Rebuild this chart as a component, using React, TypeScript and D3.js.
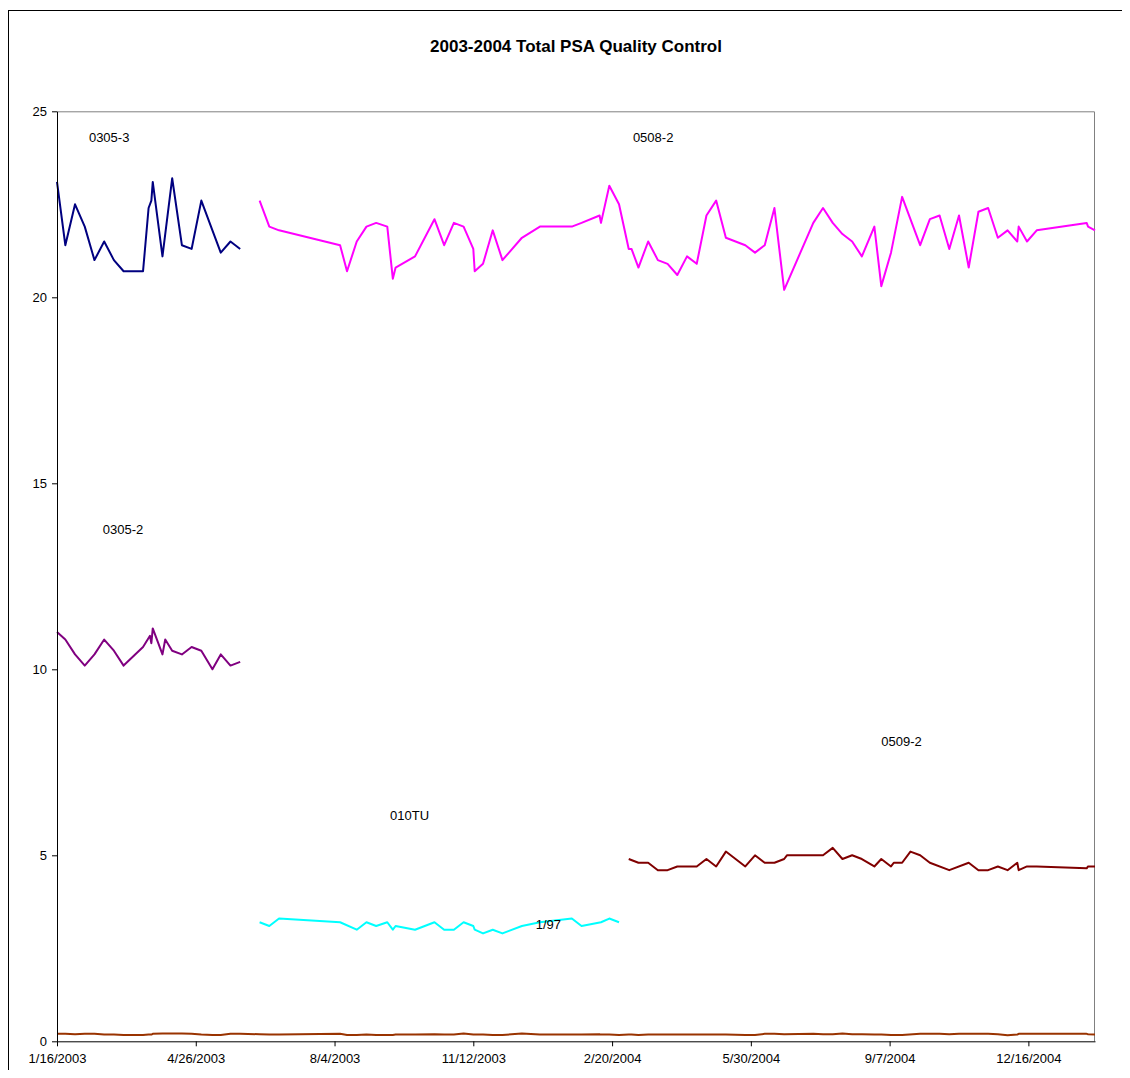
import React, { useEffect, useRef } from 'react';
import * as d3 from 'd3';

const chartTitle = '2003-2004 Total PSA Quality Control';

const xTickDates = [
  '2003-01-16', '2003-04-26', '2003-08-04', '2003-11-12',
  '2004-02-20', '2004-05-30', '2004-09-07', '2004-12-16',
];
const xDomain = ['2003-01-16', '2005-02-02'];
const yTicks = [0, 5, 10, 15, 20, 25];

// lot 0305 (Jan - May 2003)
const dates0305_3 = [
  '2003-01-16', '2003-01-22', '2003-01-29', '2003-02-05', '2003-02-12', '2003-02-19', '2003-02-26',
  '2003-03-05', '2003-03-19', '2003-03-23', '2003-03-25', '2003-03-26', '2003-04-02', '2003-04-09',
  '2003-04-16', '2003-04-23', '2003-04-30', '2003-05-08', '2003-05-14', '2003-05-21', '2003-05-28',
];
const values0305_3 = [
  23.1, 21.4, 22.5, 21.9, 21.0, 21.5, 21.0,
  20.7, 20.7, 22.4, 22.6, 23.1, 21.1, 23.2,
  21.4, 21.3, 22.6, 21.8, 21.2, 21.5, 21.3,
];

const dates0305_2 = [
  '2003-01-16', '2003-01-22', '2003-01-29', '2003-02-05', '2003-02-12', '2003-02-19', '2003-02-26',
  '2003-03-05', '2003-03-19', '2003-03-24', '2003-03-25', '2003-03-26', '2003-04-02', '2003-04-04',
  '2003-04-09', '2003-04-16', '2003-04-23', '2003-04-30', '2003-05-08', '2003-05-14', '2003-05-21',
  '2003-05-28',
];
const values0305_2 = [
  11.0, 10.8, 10.4, 10.1, 10.4, 10.8, 10.5,
  10.1, 10.6, 10.9, 10.7, 11.1, 10.4, 10.8,
  10.5, 10.4, 10.6, 10.5, 10.0, 10.4, 10.1,
  10.2,
];

// lot 0508 (Jun 2003 - Feb 2005)
const dates0508_2 = [
  '2003-06-11', '2003-06-18', '2003-06-25', '2003-08-08', '2003-08-13', '2003-08-20', '2003-08-27',
  '2003-09-03', '2003-09-11', '2003-09-15', '2003-09-17', '2003-10-01', '2003-10-15', '2003-10-22',
  '2003-10-29', '2003-11-05', '2003-11-12', '2003-11-13', '2003-11-19', '2003-11-26', '2003-12-03',
  '2003-12-17', '2003-12-30',
  '2004-01-22', '2004-01-29', '2004-02-11', '2004-02-12', '2004-02-18', '2004-02-25', '2004-03-03',
  '2004-03-05', '2004-03-10', '2004-03-17', '2004-03-24', '2004-03-31', '2004-04-07', '2004-04-14',
  '2004-04-21', '2004-04-28', '2004-05-05', '2004-05-12', '2004-05-26', '2004-06-02', '2004-06-09',
  '2004-06-16', '2004-06-23', '2004-07-14', '2004-07-21', '2004-07-28', '2004-08-04', '2004-08-11',
  '2004-08-18', '2004-08-27', '2004-09-01', '2004-09-08', '2004-09-16', '2004-09-29', '2004-10-06',
  '2004-10-13', '2004-10-20', '2004-10-27', '2004-11-03', '2004-11-10', '2004-11-17', '2004-11-24',
  '2004-12-01', '2004-12-08', '2004-12-09', '2004-12-15', '2004-12-22',
  '2005-01-27', '2005-01-28', '2005-02-02',
];
const values0508_2 = [
  22.6, 21.9, 21.8, 21.4, 20.7, 21.5, 21.9,
  22.0, 21.9, 20.5, 20.8, 21.1, 22.1, 21.4,
  22.0, 21.9, 21.3, 20.7, 20.9, 21.8, 21.0,
  21.6, 21.9,
  21.9, 22.0, 22.2, 22.0, 23.0, 22.5, 21.3,
  21.3, 20.8, 21.5, 21.0, 20.9, 20.6, 21.1,
  20.9, 22.2, 22.6, 21.6, 21.4, 21.2, 21.4,
  22.4, 20.2, 22.0, 22.4, 22.0, 21.7, 21.5,
  21.1, 21.9, 20.3, 21.2, 22.7, 21.4, 22.1,
  22.2, 21.3, 22.2, 20.8, 22.3, 22.4, 21.6,
  21.8, 21.5, 21.9, 21.5, 21.8,
  22.0, 21.9, 21.8,
];

// tumor marker control 010TU
const dates010TU = [
  '2003-06-11', '2003-06-18', '2003-06-25', '2003-08-08', '2003-08-20', '2003-08-27', '2003-09-03',
  '2003-09-11', '2003-09-15', '2003-09-17', '2003-10-01', '2003-10-15', '2003-10-22', '2003-10-29',
  '2003-11-05', '2003-11-12', '2003-11-13', '2003-11-19', '2003-11-26', '2003-12-03', '2003-12-17',
  '2003-12-30', '2004-01-22', '2004-01-29', '2004-02-12', '2004-02-18', '2004-02-25',
];
const values010TU = [
  3.2, 3.1, 3.3, 3.2, 3.0, 3.2, 3.1,
  3.2, 3.0, 3.1, 3.0, 3.2, 3.0, 3.0,
  3.2, 3.1, 3.0, 2.9, 3.0, 2.9, 3.1,
  3.2, 3.3, 3.1, 3.2, 3.3, 3.2,
];

// lot 0509 (Mar 2004 - Feb 2005)
const dates0509_2 = [
  '2004-03-03', '2004-03-10', '2004-03-17', '2004-03-24', '2004-03-31', '2004-04-07', '2004-04-21',
  '2004-04-28', '2004-05-05', '2004-05-12', '2004-05-26', '2004-06-02', '2004-06-09', '2004-06-16',
  '2004-06-23', '2004-06-25', '2004-07-21', '2004-07-28', '2004-08-04', '2004-08-11', '2004-08-18',
  '2004-08-27', '2004-09-01', '2004-09-08', '2004-09-10', '2004-09-16', '2004-09-22', '2004-09-29',
  '2004-10-06', '2004-10-20', '2004-11-03', '2004-11-10', '2004-11-17', '2004-11-24', '2004-12-01',
  '2004-12-08', '2004-12-09', '2004-12-15', '2004-12-22', '2005-01-27', '2005-01-28', '2005-02-02',
];
const values0509_2 = [
  4.9, 4.8, 4.8, 4.6, 4.6, 4.7, 4.7,
  4.9, 4.7, 5.1, 4.7, 5.0, 4.8, 4.8,
  4.9, 5.0, 5.0, 5.2, 4.9, 5.0, 4.9,
  4.7, 4.9, 4.7, 4.8, 4.8, 5.1, 5.0,
  4.8, 4.6, 4.8, 4.6, 4.6, 4.7, 4.6,
  4.8, 4.6, 4.7, 4.7, 4.65, 4.7, 4.7,
];

// blank 1/97, run every day (same run dates as the 0305 and 0508 lots)
const dates1_97 = [...dates0305_3, ...dates0508_2];
const values1_97 = [
  0.2, 0.2, 0.19, 0.2, 0.2, 0.18, 0.18, 0.17, 0.17, 0.18, 0.18, 0.2, 0.21, 0.21,
  0.21, 0.2, 0.18, 0.17, 0.17, 0.2, 0.2,
  0.19, 0.18, 0.18, 0.2, 0.17, 0.17, 0.18, 0.17, 0.17, 0.17, 0.18, 0.18, 0.19, 0.18,
  0.18, 0.21, 0.18, 0.18, 0.18, 0.17, 0.17, 0.21, 0.18,
  0.18, 0.18, 0.19, 0.18, 0.18, 0.17, 0.18, 0.18, 0.17, 0.18, 0.18, 0.18, 0.18, 0.18,
  0.18, 0.18, 0.18, 0.18, 0.17, 0.17, 0.2, 0.2, 0.19, 0.2, 0.19, 0.19, 0.21, 0.19,
  0.19, 0.18, 0.18, 0.17, 0.17, 0.2, 0.2, 0.2, 0.19, 0.2, 0.2, 0.2, 0.2, 0.19,
  0.16, 0.18, 0.2, 0.2, 0.2,
  0.2, 0.19, 0.18,
];

const seriesNames = ['0305-3', '0305-2', '0508-2', '010TU', '0509-2', '1/97'];
const seriesColors = ['#000080', '#800080', '#ff00ff', '#00ffff', '#800000', '#993300'];
const seriesDates = [dates0305_3, dates0305_2, dates0508_2, dates010TU, dates0509_2, dates1_97];
const seriesValues = [values0305_3, values0305_2, values0508_2, values010TU, values0509_2, values1_97];

// text boxes placed on the chart (anchored in data space)
const labelDates = ['2003-02-08', '2003-02-18', '2004-03-06', '2003-09-13', '2004-09-01', '2003-12-27'];
const labelValues = [24.3, 13.75, 24.3, 6.08, 8.07, 3.15];

const FONT = '"Liberation Sans", Arial, sans-serif';

const QCChart = () => {
  const svgRef = useRef<SVGSVGElement | null>(null);

  const totalWidth = 1114;
  const totalHeight = 1062;
  const margin = { top: 103.3, right: 27, bottom: 28.7, left: 49 };
  const width = totalWidth - margin.left - margin.right;
  const height = totalHeight - margin.top - margin.bottom;

  useEffect(() => {
    if (!svgRef.current) return;
    const parse = d3.timeParse('%Y-%m-%d');

    const svg = d3.select(svgRef.current);
    svg.selectAll('*').remove();

    // outer chart frame
    svg
      .append('rect')
      .attr('x', 0.5)
      .attr('y', 2.5)
      .attr('width', totalWidth + 20)
      .attr('height', totalHeight + 20)
      .attr('fill', '#ffffff')
      .attr('stroke', '#000000')
      .attr('stroke-width', 1);

    svg
      .append('text')
      .attr('x', margin.left + width / 2)
      .attr('y', 44)
      .attr('text-anchor', 'middle')
      .attr('font-family', FONT)
      .attr('font-size', 17)
      .attr('font-weight', 'bold')
      .text(chartTitle);

    const chart = svg.append('g').attr('transform', `translate(${margin.left},${margin.top})`);

    const xScale = d3
      .scaleTime()
      .domain(xDomain.map((d) => parse(d)!))
      .range([0, width]);

    const yScale = d3.scaleLinear().domain([0, 25]).range([height, 0]);

    // plot area border (top and right show gray)
    chart
      .append('path')
      .attr('d', `M0,0.5H${width - 0.5}V${height}`)
      .attr('fill', 'none')
      .attr('stroke', '#808080')
      .attr('stroke-width', 1);

    // series
    const line = d3
      .line<[Date, number]>()
      .x((d) => xScale(d[0]))
      .y((d) => yScale(d[1]));

    seriesNames.forEach((name, i) => {
      const pts: [Date, number][] = seriesDates[i].map((d, j) => [parse(d)!, seriesValues[i][j]]);
      chart
        .append('path')
        .attr('class', `series-${i}`)
        .attr('d', line(pts))
        .attr('fill', 'none')
        .attr('stroke', seriesColors[i])
        .attr('stroke-width', 2)
        .attr('stroke-linejoin', 'round');
    });

    // axes
    const yAxis = chart
      .append('g')
      .call(
        d3.axisLeft(yScale).tickValues(yTicks).tickSize(5).tickSizeOuter(0).tickPadding(5),
      );
    const xAxis = chart
      .append('g')
      .attr('transform', `translate(0,${height})`)
      .call(
        d3
          .axisBottom(xScale)
          .tickValues(xTickDates.map((d) => parse(d)!))
          .tickFormat((d) => d3.timeFormat('%-m/%-d/%Y')(d as Date))
          .tickSize(5)
          .tickSizeOuter(0)
          .tickPadding(7),
      );
    [xAxis, yAxis].forEach((ax) => {
      ax.selectAll('path,line').attr('stroke', '#000000');
      ax.selectAll('text')
        .attr('font-family', FONT)
        .attr('font-size', 13)
        .attr('fill', '#000000');
    });

    // series text boxes
    seriesNames.forEach((name, i) => {
      chart
        .append('text')
        .attr('x', xScale(parse(labelDates[i])!))
        .attr('y', yScale(labelValues[i]))
        .attr('dy', '0.35em')
        .attr('font-family', FONT)
        .attr('font-size', 13)
        .attr('fill', '#000000')
        .text(name);
    });
  }, []);

  return (
    <svg
      ref={svgRef}
      width={totalWidth}
      height={totalHeight}
      style={{ display: 'block', overflow: 'hidden' }}
    />
  );
};

export default function App() {
  return <QCChart />;
}
